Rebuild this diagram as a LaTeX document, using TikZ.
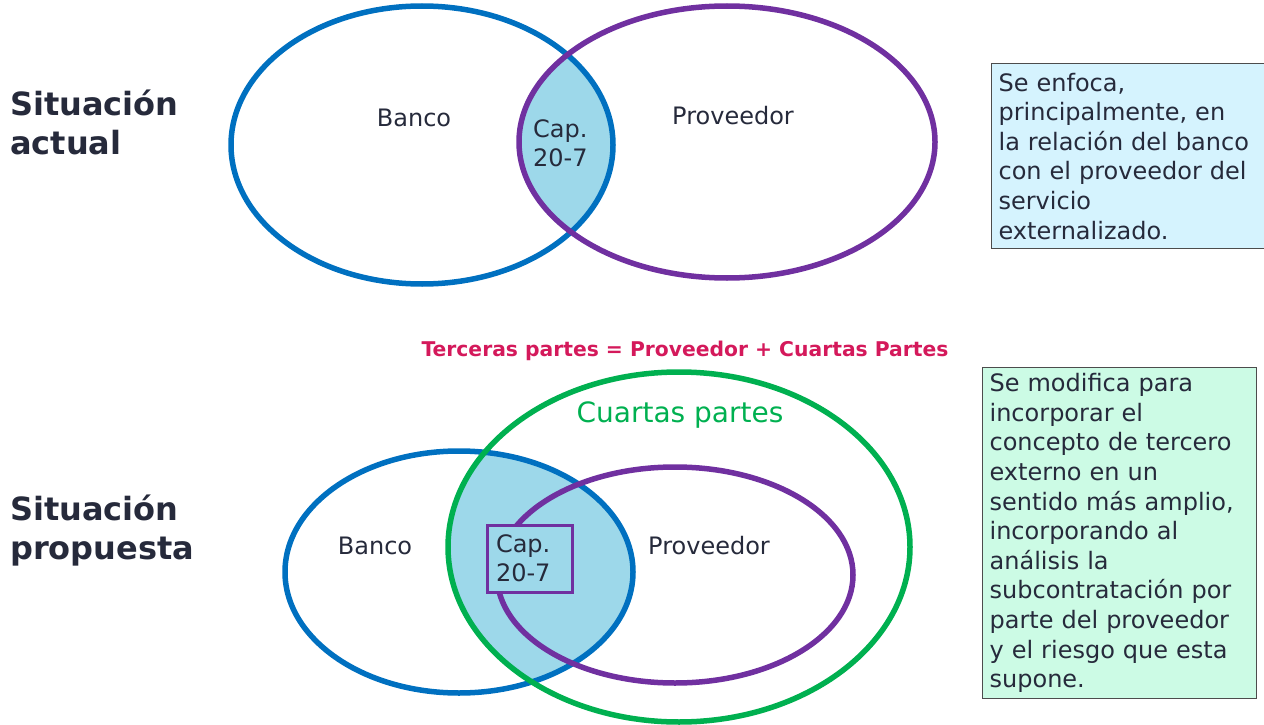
\documentclass[tikz,border=0pt]{standalone}
\usepackage{fontspec}
\setmainfont{DejaVu Sans}
\usepackage{xcolor}
\usepackage{tikz}

\definecolor{azul}{HTML}{0070C0}
\definecolor{morado}{HTML}{7030A0}
\definecolor{verde}{HTML}{00B050}
\definecolor{capfondo}{HTML}{9DD8EA}
\definecolor{nota1}{HTML}{D5F3FE}
\definecolor{nota2}{HTML}{CCFBE5}
\definecolor{texto}{HTML}{262A3B}
\definecolor{rosa}{HTML}{D4195B}

\tikzset{
  conjunto/.style={line width=5.5pt},
  titulo/.style={font=\fontsize{32}{39}\selectfont\bfseries, text=texto, align=left, anchor=west, inner sep=0pt},
  etiqueta/.style={font=\fontsize{24}{29}\selectfont, text=texto, inner sep=0pt},
  nota/.style={draw=black!70, line width=1.2pt, anchor=north west, align=left, inner xsep=7pt,
    font=\fontsize{24}{29.6}\selectfont, text=texto}
}

\begin{document}
\begin{tikzpicture}[x=1pt,y=-1pt]
        \useasboundingbox (0,0) rectangle (1264,725);
        % Situación actual
        \node[titulo] (actual) at (10,122) {Situación\\actual};
        \begin{scope}
          \clip (422,145) ellipse [x radius=191, y radius=139];
          \fill[capfondo] (727,142) ellipse [x radius=208, y radius=136];
        \end{scope}
        \draw[conjunto,azul] (422,145) ellipse [x radius=191, y radius=139];
        \draw[conjunto,morado] (727,142) ellipse [x radius=208, y radius=136];
        \node[etiqueta] (banco1) at (414,118) {Banco};
        \node[etiqueta] (prov1) at (733,116) {Proveedor};
        \node[etiqueta, align=left, anchor=west] (cap1) at (533,143) {Cap.\\20-7};
        \node[nota, fill=nota1, text width=280pt, minimum height=185pt] (nota1) at (991,63)
          {Se enfoca,\\principalmente, en\\la relación del banco\\con el proveedor del\\servicio\\externalizado.};
        % Situación propuesta
        \node[titulo] (propuesta) at (10,531) {Situación\\propuesta};
        \node[font=\fontsize{20.3}{24}\selectfont\bfseries, text=rosa] (tercer) at (685,351)
          {Terceras partes = Proveedor + Cuartas Partes};
        \begin{scope}
          \clip (459,572) ellipse [x radius=174, y radius=121];
          \fill[capfondo] (679,547) ellipse [x radius=231, y radius=175];
        \end{scope}
        \draw[conjunto,azul] (459,572) ellipse [x radius=174, y radius=121];
        \draw[conjunto,morado] (675,575) ellipse [x radius=178, y radius=108];
        \draw[conjunto,verde] (679,547) ellipse [x radius=231, y radius=175];
        \node[font=\fontsize{28}{32}\selectfont, text=verde] (cuartas) at (680,415) {Cuartas partes};
        \node[etiqueta] (banco2) at (375,546) {Banco};
        \node[etiqueta] (prov2) at (709,546) {Proveedor};
        \node[etiqueta, draw=morado, line width=3pt, fill=capfondo, align=left, text width=67pt,
          inner xsep=9pt, minimum height=67pt] (cap2) at (529.5,558.5) {Cap.\\20-7};
        \node[nota, fill=nota2, text width=260pt, minimum height=331pt] (nota2) at (982,367)
          {Se modifica para\\incorporar el\\concepto de tercero\\externo en un\\sentido más amplio,\\incorporando al\\análisis la\\subcontratación por\\parte del proveedor\\y el riesgo que esta\\supone.};
     \end{tikzpicture}
\end{document}
